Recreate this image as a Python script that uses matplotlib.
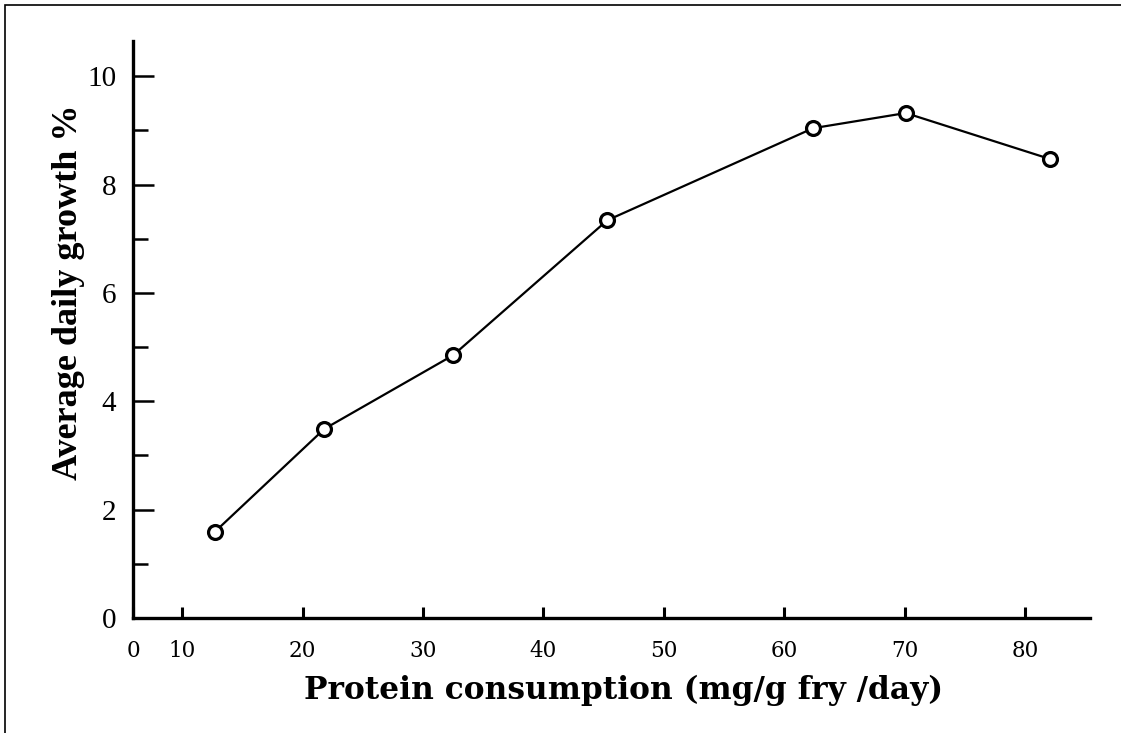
import matplotlib
matplotlib.use("Agg")
import matplotlib.pyplot as plt
from matplotlib.patches import Rectangle

# protein consumption (mg/g fry/day) vs average daily growth (%)
protein = [12.7, 21.8, 32.5, 45.3, 62.4, 70.1, 82.1]
growth = [1.59, 3.49, 4.85, 7.34, 9.04, 9.32, 8.47]

x_ticks = [5.9, 10, 20, 30, 40, 50, 60, 70, 80]
x_tick_labels = ["0", "10", "20", "30", "40", "50", "60", "70", "80"]
y_ticks = [0, 2, 4, 6, 8, 10]
y_minor = [1, 3, 5, 7, 9]

fig = plt.figure(figsize=(11.21, 7.33), dpi=100)
ax = fig.add_axes([0.1186, 0.1569, 0.8537, 0.7872])

ax.plot(protein, growth, color="black", linewidth=1.6,
        marker="o", markersize=10, markerfacecolor="white",
        markeredgecolor="black", markeredgewidth=2.3, zorder=3)

ax.set_xlim(5.9, 85.4)
ax.set_ylim(0, 10.65)

for side in ["top", "right"]:
    ax.spines[side].set_visible(False)
for side in ["left", "bottom"]:
    ax.spines[side].set_linewidth(2.4)

ax.set_xticks(x_ticks)
ax.set_xticklabels(x_tick_labels, fontfamily="DejaVu Serif", fontsize=15.5)
ax.set_yticks(y_ticks)
ax.set_yticklabels([str(v) for v in y_ticks], fontfamily="Liberation Serif",
                   fontsize=21)
ax.set_yticks(y_minor, minor=True)

ax.tick_params(axis="x", direction="in", length=8, width=2.2, pad=16)
ax.tick_params(axis="y", which="major", direction="in", length=15, width=1.8, pad=12)
ax.tick_params(axis="y", which="minor", direction="in", length=11, width=1.8)

ax.set_xlabel("Protein consumption (mg/g fry /day)", fontfamily="DejaVu Serif",
              fontweight="bold", fontsize=22.5)
ax.xaxis.set_label_coords(0.513, -0.098)
ax.set_ylabel("Average daily growth %", fontfamily="Liberation Serif",
              fontweight="bold", fontsize=26)
ax.yaxis.set_label_coords(-0.05, 0.565)

# frame round the picture (only the left and top edges are visible)
fig.patches.append(Rectangle((5 / 1121, -0.5), 2, 1.5 - 5 / 733,
                             transform=fig.transFigure, fill=False,
                             edgecolor="black", linewidth=1.2))

fig.savefig("out.png", dpi=100)
